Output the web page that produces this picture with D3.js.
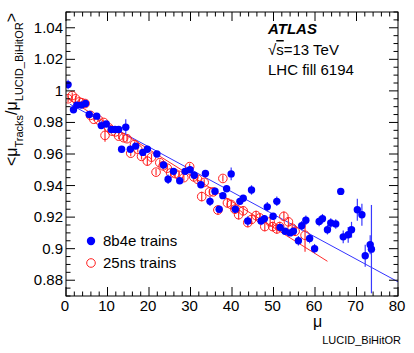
<!DOCTYPE html>
<html>
<head>
<meta charset="utf-8">
<script src="https://cdn.jsdelivr.net/npm/d3@7"></script>
<style>
body { margin: 0; background: #fff; }
text { font-family: "Liberation Sans", Arial, sans-serif; }
</style>
</head>
<body>
<div id="chart"></div>
<script>
//chart size
var W = 414, H = 353;

//8b4e trains: mu, ratio, error
var blueMu = [0.5, 1.8, 2.6, 3.7, 4.7, 5.6, 7.4, 8.5, 9.7, 10.9, 11.8, 12.7, 13.4, 14.4, 15.5, 16.8, 18.5, 19.6, 21.9, 23.5,
	24.6, 25.9, 27.4, 28.7, 29.9, 30.9, 32.5, 33.6, 34.7, 35.9, 36.9, 37.8, 38.7, 39.8, 40.8, 41.9, 42.7, 43.8, 44.7, 47.0,
	47.8, 48.5, 49.9, 50.8, 51.6, 52.8, 54.0, 54.8, 56.0, 56.8, 57.8, 58.7, 59.9, 61.0, 61.8, 63.0, 63.8, 65.0, 66.2, 66.8,
	68.0, 68.8, 70.2, 71.3, 72.1, 73.3, 73.6];
var blueVal = [1.004, 0.988, 0.991, 0.991, 0.992, 0.985, 0.984, 0.978, 0.979, 0.9755, 0.9755, 0.9755, 0.963, 0.977, 0.963, 0.965, 0.961, 0.963, 0.960, 0.953,
	0.944, 0.949, 0.943, 0.949, 0.950, 0.9465, 0.9405, 0.9476, 0.930, 0.9364, 0.925, 0.9336, 0.938, 0.9474, 0.925, 0.930, 0.932, 0.9175, 0.9372, 0.9175,
	0.919, 0.9265, 0.9205, 0.930, 0.9135, 0.911, 0.910, 0.911, 0.905, 0.9145, 0.918, 0.9065, 0.900, 0.9172, 0.919, 0.912, 0.9163, 0.9157, 0.9363, 0.9075,
	0.9088, 0.912, 0.9247, 0.9215, 0.8955, 0.9025, 0.8997];
var blueErr = [0.003, 0.002, 0.001, 0.001, 0.001, 0.001, 0.001, 0.002, 0.001, 0.001, 0.001, 0.001, 0.002, 0.005, 0.001, 0.001, 0.001, 0.001, 0.001, 0.002,
	0.003, 0.002, 0.002, 0.002, 0.002, 0.002, 0.002, 0.002, 0.003, 0.002, 0.002, 0.002, 0.002, 0.004, 0.002, 0.002, 0.002, 0.003, 0.003, 0.002,
	0.002, 0.003, 0.002, 0.003, 0.002, 0.002, 0.002, 0.002, 0.003, 0.003, 0.003, 0.003, 0.003, 0.003, 0.003, 0.003, 0.003, 0.003, 0.002, 0.004,
	0.005, 0.005, 0.007, 0.007, 0.007, 0.006, 0.028];

//25ns trains: mu, ratio, error
var redMu = [0.5, 1.5, 2.3, 3.2, 3.8, 4.6, 5.9, 6.7, 7.9, 9.1, 9.4, 10.3, 11.1, 11.9, 12.7, 13.9, 14.7, 15.6, 16.5, 17.3,
	18.2, 19.6, 20.6, 21.7, 22.6, 23.4, 24.4, 25.2, 26.3, 27.2, 28.4, 29.8, 30.8, 31.7, 32.7, 33.3, 34.6, 35.5, 36.6, 37.8,
	38.9, 39.8, 40.7, 41.6, 42.7, 43.8, 44.7, 45.8, 46.7, 47.9, 49.2, 49.8, 50.8, 51.5, 52.5, 53.6, 54.5, 55.2, 57.6];
var redVal = [0.995, 0.997, 0.995, 0.993, 0.9925, 0.992, 0.9845, 0.982, 0.9815, 0.980, 0.9718, 0.9767, 0.9745, 0.974, 0.9713, 0.9703, 0.9697, 0.9605, 0.966, 0.963,
	0.9585, 0.9555, 0.958, 0.9485, 0.9545, 0.9525, 0.951, 0.948, 0.9476, 0.9465, 0.945, 0.952, 0.9455, 0.944, 0.933, 0.942, 0.936, 0.936, 0.9245, 0.9445,
	0.929, 0.928, 0.925, 0.9215, 0.924, 0.9165, 0.9185, 0.921, 0.9195, 0.914, 0.917, 0.914, 0.9125, 0.914, 0.9205, 0.917, 0.913, 0.911, 0.9085];
var redErr = [0.002, 0.002, 0.002, 0.002, 0.001, 0.001, 0.001, 0.001, 0.001, 0.001, 0.004, 0.002, 0.001, 0.001, 0.002, 0.002, 0.002, 0.002, 0.002, 0.002,
	0.002, 0.003, 0.002, 0.002, 0.002, 0.002, 0.002, 0.002, 0.002, 0.002, 0.002, 0.002, 0.002, 0.002, 0.003, 0.002, 0.002, 0.002, 0.003, 0.002,
	0.003, 0.003, 0.003, 0.003, 0.003, 0.003, 0.003, 0.003, 0.003, 0.003, 0.003, 0.003, 0.003, 0.003, 0.003, 0.003, 0.003, 0.003, 0.0105];

//linear fits (endpoints)
var blueFitMu = [1, 80];
var blueFitVal = [0.9915, 0.879];
var redFitMu = [0.5, 63];
var redFitVal = [0.995, 0.892];

//axis ticks
var xTicks = [0, 10, 20, 30, 40, 50, 60, 70, 80];
var yTicks = [0.88, 0.9, 0.92, 0.94, 0.96, 0.98, 1, 1.02, 1.04];
var yTickLabels = ["0.88", "0.9", "0.92", "0.94", "0.96", "0.98", "1", "1.02", "1.04"];

var legendLabels = ["8b4e trains", "25ns trains"];

//frame edges (px)
var fL = 66, fR = 398, fT = 12, fB = 296;

var x = d3.scaleLinear().domain([0, 80]).range([fL, fR]);
var y = d3.scaleLinear().domain([0.87, 1.05]).range([fB, fT]);

var svg = d3.select("#chart").append("svg")
	.attr("width", W)
	.attr("height", H);

svg.append("clipPath").attr("id", "clip")
	.append("rect")
	.attr("x", fL).attr("y", fT)
	.attr("width", fR - fL).attr("height", fB - fT);

var plot = svg.append("g").attr("clip-path", "url(#clip)");

//fit lines
function fitLine(mu, val, col){
	plot.append("line")
		.attr("x1", x(mu[0])).attr("y1", y(val[0]))
		.attr("x2", x(mu[1])).attr("y2", y(val[1]))
		.attr("stroke", col)
		.attr("stroke-width", 1);
}
fitLine(blueFitMu, blueFitVal, "#3333ff");
fitLine(redFitMu, redFitVal, "#ff2a2a");

//build point rows
function rows(mu, val, err){
	return mu.map(function(m, i){ return {mu: m, v: val[i], e: err[i]}; });
}
var blue = rows(blueMu, blueVal, blueErr);
var red = rows(redMu, redVal, redErr);

//red series: error bars then open circles
plot.selectAll("line.rerr").data(red).enter().append("line")
	.attr("class", "rerr")
	.attr("x1", function(d){ return x(d.mu); })
	.attr("x2", function(d){ return x(d.mu); })
	.attr("y1", function(d){ return y(d.v - d.e); })
	.attr("y2", function(d){ return y(d.v + d.e); })
	.attr("stroke", "#ff3030")
	.attr("stroke-width", 1.2);
plot.selectAll("circle.rpt").data(red).enter().append("circle")
	.attr("class", "rpt")
	.attr("cx", function(d){ return x(d.mu); })
	.attr("cy", function(d){ return y(d.v); })
	.attr("r", 4.3)
	.attr("fill", "none")
	.attr("stroke", "#ff2020")
	.attr("stroke-width", 1);

//blue series: error bars then filled dots
plot.selectAll("line.berr").data(blue).enter().append("line")
	.attr("class", "berr")
	.attr("x1", function(d){ return x(d.mu); })
	.attr("x2", function(d){ return x(d.mu); })
	.attr("y1", function(d){ return y(d.v - d.e); })
	.attr("y2", function(d){ return y(d.v + d.e); })
	.attr("stroke", "#3a3aff")
	.attr("stroke-width", 1.2);
plot.selectAll("circle.bpt").data(blue).enter().append("circle")
	.attr("class", "bpt")
	.attr("cx", function(d){ return x(d.mu); })
	.attr("cy", function(d){ return y(d.v); })
	.attr("r", 3.7)
	.attr("fill", "#0000ff");

//frame and ticks
svg.append("rect")
	.attr("x", fL).attr("y", fT)
	.attr("width", fR - fL).attr("height", fB - fT)
	.attr("fill", "none")
	.attr("stroke", "#000")
	.attr("stroke-width", 1);

var tk = svg.append("g").attr("stroke", "#000").attr("stroke-width", 1);
//x ticks bottom and top
d3.range(0, 81, 2).forEach(function(v){
	var len = (v % 10 == 0) ? 9 : 4.5;
	tk.append("line").attr("x1", x(v)).attr("x2", x(v)).attr("y1", fB).attr("y2", fB - len);
	tk.append("line").attr("x1", x(v)).attr("x2", x(v)).attr("y1", fT).attr("y2", fT + len);
});
//y ticks left and right
d3.range(0, 37).forEach(function(i){
	var v = 0.87 + i * 0.005;
	var major = (Math.round(v * 1000) % 20 == 0);
	var len = major ? 9 : 4.5;
	tk.append("line").attr("x1", fL).attr("x2", fL + len).attr("y1", y(v)).attr("y2", y(v));
	tk.append("line").attr("x1", fR).attr("x2", fR - len).attr("y1", y(v)).attr("y2", y(v));
});

//tick labels
svg.selectAll("text.xl").data(xTicks).enter().append("text")
	.attr("class", "xl")
	.attr("x", function(d){ return x(d) - 1; })
	.attr("y", fB + 15)
	.attr("text-anchor", "middle")
	.attr("font-size", 15)
	.text(function(d){ return d; });

svg.selectAll("text.yl").data(yTicks).enter().append("text")
	.attr("class", "yl")
	.attr("x", fL - 3)
	.attr("y", function(d){ return y(d) + 5; })
	.attr("text-anchor", "end")
	.attr("font-size", 15)
	.text(function(d, i){ return yTickLabels[i]; });

//x axis title
var xt = svg.append("text")
	.attr("x", 313)
	.attr("y", 327)
	.attr("font-size", 16);
xt.append("tspan").text("μ");
xt.append("tspan").attr("font-size", 11).attr("dy", 17).text("LUCID_BiHitOR");

//y axis title (rotated)
var yt = svg.append("text")
	.attr("transform", "translate(17,13) rotate(-90)")
	.attr("text-anchor", "end")
	.attr("font-size", 16);
yt.append("tspan").text("<μ");
yt.append("tspan").attr("font-size", 11).attr("dy", 6).text("Tracks");
yt.append("tspan").attr("dy", -6).text("/μ");
yt.append("tspan").attr("font-size", 11).attr("dy", 6).text("LUCID_BiHitOR");
yt.append("tspan").attr("dy", -6).text(">");

//ATLAS label
svg.append("text")
	.attr("x", 268).attr("y", 34)
	.attr("font-size", 15)
	.attr("font-weight", "bold")
	.attr("font-style", "italic")
	.text("ATLAS");
var rs = svg.append("text")
	.attr("x", 268).attr("y", 55)
	.attr("font-size", 15);
rs.append("tspan").text("√");
rs.append("tspan").attr("text-decoration", "overline").text("s");
rs.append("tspan").text("=13 TeV");
svg.append("text")
	.attr("x", 268).attr("y", 75)
	.attr("font-size", 15)
	.text("LHC fill 6194");

//legend
svg.append("circle")
	.attr("cx", 91).attr("cy", 241)
	.attr("r", 4.2)
	.attr("fill", "#0000ff");
svg.append("circle")
	.attr("cx", 91).attr("cy", 263)
	.attr("r", 4.3)
	.attr("fill", "none")
	.attr("stroke", "#ff2020");
svg.selectAll("text.leg").data(legendLabels).enter().append("text")
	.attr("class", "leg")
	.attr("x", 103)
	.attr("y", function(d, i){ return 246 + i * 22; })
	.attr("font-size", 15)
	.text(function(d){ return d; });
</script>
</body>
</html>
